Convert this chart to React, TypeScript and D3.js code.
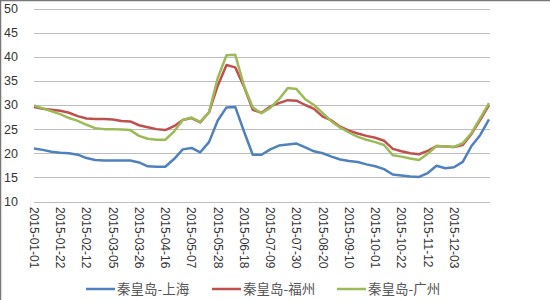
import React from "react";
import * as d3 from "d3";

const startDate = new Date(2015, 0, 1);
const weekOffsets = d3.range(0, 53).map((k) => k * 7);
const dates = weekOffsets.map((d) => d3.timeDay.offset(startDate, d));

const shanghai = [21.0, 20.7, 20.3, 20.1, 20.0, 19.7, 19.0, 18.6, 18.5, 18.5, 18.5, 18.5, 18.1, 17.3, 17.2, 17.2, 18.8, 20.8, 21.1, 20.2, 22.3, 26.8, 29.5, 29.6, 24.5, 19.7, 19.7, 20.8, 21.6, 21.8, 22.0, 21.2, 20.4, 20.0, 19.3, 18.7, 18.4, 18.2, 17.7, 17.3, 16.7, 15.6, 15.4, 15.2, 15.1, 15.9, 17.4, 16.9, 17.1, 18.2, 21.5, 23.8, 27.0];
const fuzhou = [29.6, 29.2, 29.0, 28.8, 28.4, 27.7, 27.2, 27.1, 27.1, 27.0, 26.7, 26.6, 25.8, 25.4, 25.0, 24.8, 25.6, 26.9, 27.3, 26.4, 28.5, 34.0, 38.3, 37.8, 33.8, 29.0, 28.4, 29.7, 30.4, 31.0, 30.9, 30.0, 29.2, 27.6, 26.8, 25.5, 24.7, 24.1, 23.6, 23.2, 22.6, 20.9, 20.4, 20.0, 19.8, 20.5, 21.5, 21.4, 21.3, 21.7, 24.0, 26.9, 30.0];
const guangzhou = [29.9, 29.3, 28.7, 28.1, 27.3, 26.7, 25.9, 25.2, 25.0, 25.0, 24.9, 24.8, 23.6, 23.0, 22.8, 22.8, 24.5, 26.9, 27.4, 26.5, 28.5, 35.6, 40.3, 40.4, 34.0, 29.5, 28.3, 29.4, 31.2, 33.5, 33.3, 31.2, 30.0, 28.3, 26.6, 25.3, 24.3, 23.4, 22.8, 22.3, 21.7, 19.6, 19.3, 18.9, 18.6, 19.9, 21.5, 21.4, 21.3, 22.1, 24.2, 27.3, 30.4];

const seriesNames = ["秦皇岛-上海", "秦皇岛-福州", "秦皇岛-广州"];
const seriesColors = ["#4f81bd", "#c0504d", "#9bbb59"];
const seriesValues = [shanghai, fuzhou, guangzhou];

const yTicks = [10, 15, 20, 25, 30, 35, 40, 45, 50];
const xTickLabels = ["2015-01-01", "2015-01-22", "2015-02-12", "2015-03-05", "2015-03-26", "2015-04-16", "2015-05-07", "2015-05-28", "2015-06-18", "2015-07-09", "2015-07-30", "2015-08-20", "2015-09-10", "2015-10-01", "2015-10-22", "2015-11-12", "2015-12-03"];

export default function App() {
  const W = 550, H = 300;
  const x = d3.scaleTime().domain([startDate, new Date(2015, 11, 31)]).range([34, 489]);
  const y = d3.scaleLinear().domain([10, 50]).range([201.5, 8.5]);
  const line = d3.line<number>()
    .x((_, i) => x(dates[i]))
    .y((v) => y(v))
    .curve(d3.curveLinear);
  const parse = d3.timeParse("%Y-%m-%d");
  const legendX = [86, 212, 337];
  const font = "'Liberation Sans', Arial, sans-serif";
  return (
    <svg width={W} height={H} style={{ position: "absolute", left: 0, top: 0, background: "#fff" }}>
      <rect x={0} y={0} width={W} height={H} fill="#fff" />
      <line x1={0.5} y1={0} x2={0.5} y2={H} stroke="#777" strokeWidth={1.5} />
      <line x1={0} y1={0.5} x2={W} y2={0.5} stroke="#777" strokeWidth={1.5} />
      {yTicks.map((t) => (
        <g key={t}>
          <line x1={34} x2={490} y1={Math.round(y(t)) + 0.5} y2={Math.round(y(t)) + 0.5} stroke="#bdbdbd" strokeWidth={1} />
          <text x={18} y={y(t)} dy="0.35em" textAnchor="end" fontFamily={font} fontSize={12.5} fill="#333">{t}</text>
        </g>
      ))}
      {xTickLabels.map((s) => {
        const xx = x(parse(s)!);
        return (
          <text key={s} transform={`translate(${xx},207) rotate(90)`} textAnchor="start" dy="0.35em" fontFamily={font} fontSize={12} fill="#333">{s}</text>
        );
      })}
      {seriesValues.map((vals, i) => (
        <path key={i} d={line(vals) || ""} fill="none" stroke={seriesColors[i]} strokeWidth={2.5} strokeLinejoin="round" />
      ))}
      {seriesNames.map((n, i) => (
        <g key={n}>
          <line x1={legendX[i]} x2={legendX[i] + 29} y1={289} y2={289} stroke={seriesColors[i]} strokeWidth={2.5} />
          <text x={legendX[i] + 31} y={289} dy="0.35em" fontFamily="'Noto Sans CJK SC', sans-serif" fontSize={13.5} fill="#555">{n}</text>
        </g>
      ))}
    </svg>
  );
}
